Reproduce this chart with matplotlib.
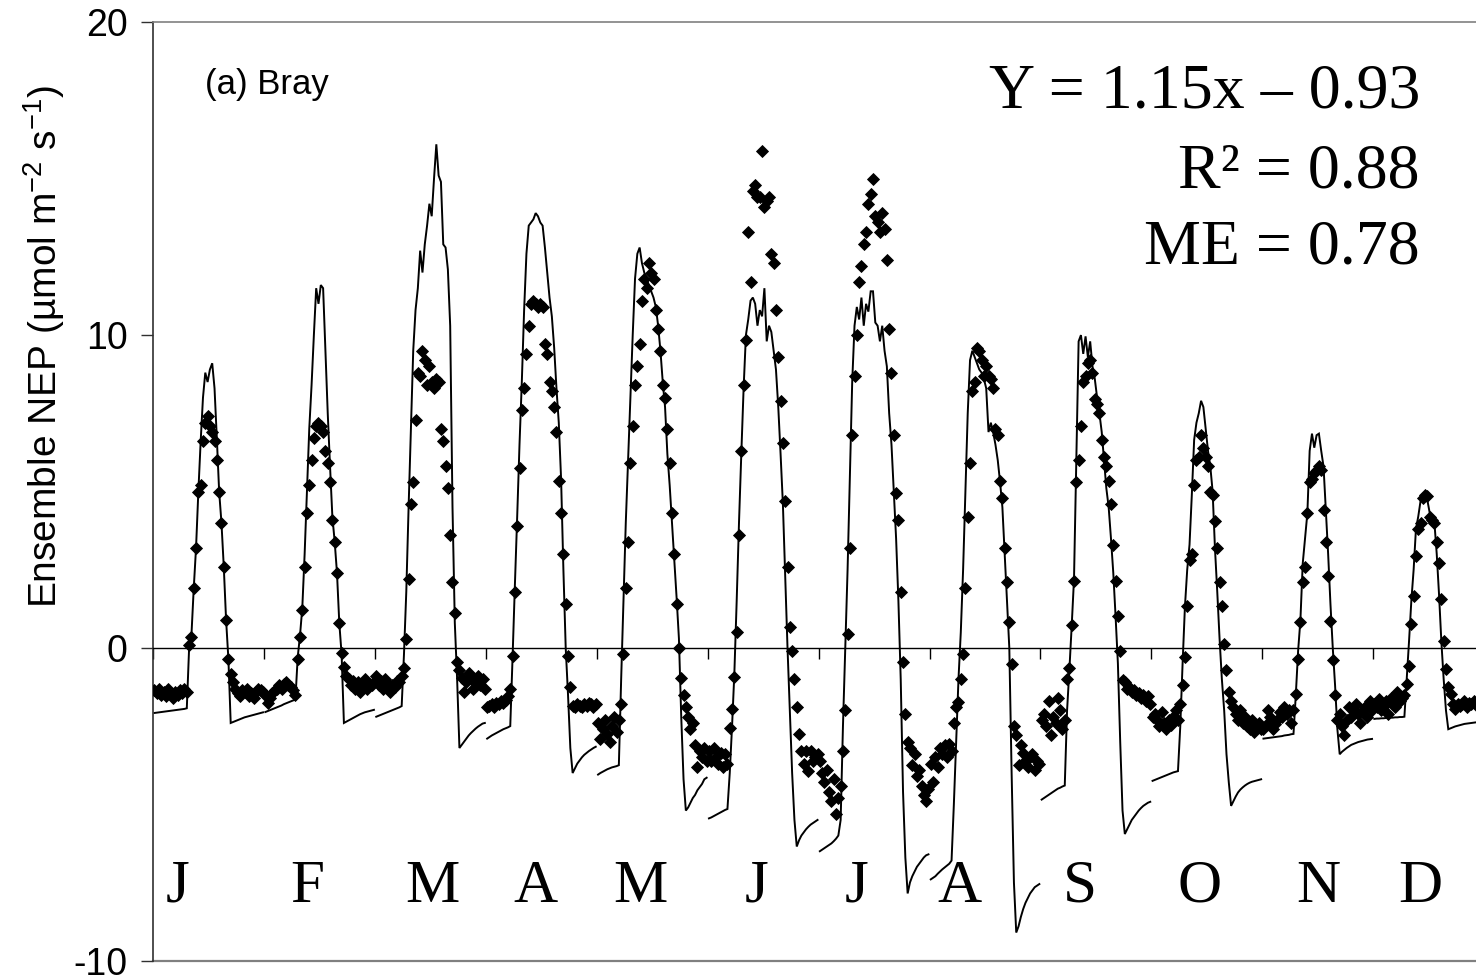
import numpy as np
import matplotlib
matplotlib.use("Agg")
import matplotlib.pyplot as plt

# ---------------- data: mean diurnal cycles (48 half-hours per month) ----------------
MONTHS = ["J", "F", "M", "A", "M", "J", "J", "A", "S", "O", "N", "D"]

# observed NEP (diamonds)
OBS_JAN = [-1.35, -1.45, -1.3, -1.5, -1.4, -1.55, -1.3, -1.45, -1.6, -1.4, -1.5, -1.35, -1.45, -1.3, -1.4,
           0.1, 0.35, 1.9, 3.2, 5.0, 5.2, 6.6, 7.2, 7.4, 7.1, 6.9, 6.6, 6.0, 5.0, 4.0, 2.6, 0.9, -0.35,
           -0.85, -1.1, -1.3, -1.45, -1.55, -1.35, -1.4, -1.3, -1.55, -1.45, -1.6, -1.4, -1.3, -1.35, -1.4]
OBS_FEB = [-1.5, -1.75, -1.6, -1.45, -1.35, -1.3, -1.2, -1.3, -1.15, -1.1, -1.2, -1.25, -1.35, -1.5,
           -0.35, 0.35, 1.2, 2.6, 4.3, 5.2, 6.0, 6.7, 7.1, 7.2, 7.1, 6.9, 6.3, 5.9, 5.3, 4.1, 3.4, 2.4, 0.8,
           -0.15, -0.6, -0.9, -1.0, -1.2, -1.05, -1.3, -1.1, -1.4, -1.2, -1.0, -1.3, -1.15, -1.2, -1.1]
OBS_MAR = [-0.9, -1.2, -1.05, -1.3, -1.0, -1.15, -1.4, -1.2, -1.25, -1.05, -1.1, -0.9,
           -0.65, 0.3, 2.2, 4.6, 5.3, 7.3, 8.8, 8.7, 9.5, 9.2, 8.4, 9.0, 8.5, 8.3, 8.6, 8.5, 7.0, 6.6, 5.8,
           5.1, 3.6, 2.1, 1.1, -0.45, -0.7, -0.95, -1.4, -1.1, -0.8, -1.0, -1.3, -1.1, -0.9, -1.2, -1.0, -1.3]
OBS_APR = [-1.9, -1.85, -1.8, -1.9, -1.75, -1.8, -1.7, -1.75, -1.65, -1.55, -1.3,
           -0.25, 1.8, 3.9, 5.75, 7.6, 8.3, 9.4, 10.3, 11.0, 11.1, 11.0, 10.9, 11.0, 10.9, 9.7, 9.4, 8.5,
           8.2, 7.7, 6.9, 5.35, 4.3, 3.0, 1.4, -0.25, -1.25, -1.85, -1.9, -1.8, -1.85, -1.9, -1.8, -1.85,
           -1.75, -1.8, -1.9, -1.8]
OBS_MAY = [-2.4, -2.9, -2.6, -2.3, -2.75, -3.0, -2.5, -2.2, -2.7, -2.3, -1.8,
           -0.2, 1.9, 3.4, 5.9, 7.1, 8.4, 9.0, 9.7, 11.1, 11.8, 11.5, 12.3, 12.0, 11.8, 10.8, 10.2, 9.5,
           8.4, 8.0, 7.0, 5.9, 4.3, 3.0, 1.4, 0.0, -0.95, -1.5, -1.9, -2.2, -2.6, -2.4, -3.1, -3.8, -3.3,
           -3.5, -3.2, -3.6]
OBS_JUN = [-3.3, -3.6, -3.2, -3.5, -3.7, -3.35, -3.8, -3.4, -3.7, -2.55, -1.95, -0.92,
           0.5, 3.6, 6.3, 8.4, 9.85, 13.3, 11.7, 14.6, 14.8, 14.4, 14.4, 15.9, 14.1, 14.3, 14.4, 12.6,
           12.3, 10.8, 9.3, 7.9, 6.55, 4.7, 2.6, 0.66, -0.1, -1.0, -1.9, -2.75, -3.3, -3.7, -3.3, -3.93,
           -3.3, -3.6, -3.5, -3.4]
OBS_JUL = [-3.6, -4.0, -4.3, -3.9, -4.6, -4.9, -4.2, -5.3, -4.8, -4.4, -3.3, -2.0,
           0.44, 3.2, 6.8, 8.7, 10.0, 11.7, 12.2, 12.9, 13.3, 14.2, 14.5, 15.0, 13.8, 13.6, 13.3, 13.9,
           13.4, 12.4, 10.2, 8.8, 6.8, 4.95, 4.1, 1.8, -0.45, -2.1, -3.0, -3.2, -3.75, -3.4, -4.1, -3.9,
           -4.4, -4.7, -4.9, -4.5]
OBS_AUG = [-3.7, -4.3, -3.5, -3.8, -3.2, -3.4, -3.1, -3.5, -3.06, -3.3, -2.4, -1.9, -1.74, -1.0,
           -0.2, 1.9, 4.2, 5.9, 8.2, 8.5, 9.6, 9.5, 9.2, 8.7, 9.0, 8.7, 8.6, 8.3, 7.0, 6.8, 5.35, 4.8, 3.2,
           2.1, 0.84, -0.53, -2.5, -2.8, -3.75, -3.1, -3.35, -3.6, -3.8, -3.5, -3.4, -3.9, -3.6, -3.7]
OBS_SEP = [-2.3, -2.1, -2.5, -1.7, -2.8, -2.2, -2.4, -1.6, -2.0, -2.6, -2.3, -1.0,
           -0.63, 0.73, 2.15, 5.3, 6.0, 7.1, 8.5, 8.7, 9.1, 9.2, 8.8, 7.95, 7.8, 7.5, 6.65, 6.1, 5.8, 5.35,
           4.6, 3.3, 2.15, 1.03, -0.09, -1.04, -1.1, -1.3, -1.25, -1.4, -1.35, -1.5, -1.45, -1.6, -1.5,
           -1.7, -1.55, -1.8]
OBS_OCT = [-2.2, -2.1, -2.3, -2.5, -2.05, -2.4, -2.6, -2.3, -2.45, -2.2, -2.0, -2.3,
           -1.8, -1.2, -0.3, 1.33, 2.8, 3.0, 5.2, 6.0, 6.1, 6.8, 6.4, 6.1, 5.8, 5.0, 4.9, 4.05, 3.2, 2.1,
           1.33, 0.14, -0.7, -1.4, -1.7, -1.9, -2.1, -2.3, -2.0, -2.4, -2.2, -2.5, -2.6, -2.3, -2.7, -2.5,
           -2.4, -2.6]
OBS_NOV = [-2.6, -2.45, -2.0, -2.2, -2.6, -2.43, -2.3, -2.05, -2.2, -1.9, -2.1, -2.0, -2.4, -2.0,
           -1.47, -0.35, 0.82, 2.1, 2.6, 4.3, 5.3, 5.4, 5.6, 5.7, 5.8, 5.7, 4.4, 3.4, 2.3, 0.87, -0.4, -1.5,
           -2.3, -2.1, -2.5, -2.8, -2.3, -1.9, -2.2, -2.0, -1.8, -2.1, -2.4, -2.0, -1.9, -2.2, -1.7, -2.0]
OBS_DEC = [-1.8, -1.9, -1.63, -2.0, -1.85, -1.7, -2.1, -1.6, -1.8, -1.9, -1.4, -1.7, -1.6, -1.5,
           -1.15, -0.57, 0.77, 1.67, 2.95, 3.8, 4.0, 4.8, 4.9, 4.85, 4.2, 4.1, 4.0, 3.4, 2.7, 1.57, 0.23,
           -0.68, -1.26, -1.47, -1.8, -1.95, -1.8, -1.85, -1.8, -1.7, -1.9, -1.75, -1.8, -1.7, -1.8, -1.9,
           -1.8, -1.85]

# ensemble model NEP (line)
MOD_JAN = [-2.08, -2.07, -2.06, -2.05, -2.04, -2.03, -2.02, -2.01, -2.0, -1.99, -1.98, -1.97, -1.96, -1.95, -1.93,
           0.0, 0.4, 1.9, 3.2, 5.0, 6.6, 8.0, 8.8, 8.5, 8.9, 9.1, 8.3, 6.7, 5.0, 4.0, 2.6, 0.9, -0.35,
           -2.4, -2.37, -2.34, -2.31, -2.28, -2.25, -2.22, -2.2, -2.18, -2.16, -2.14, -2.12, -2.1, -2.08, -2.06]
MOD_FEB = [-2.05, -2.02, -1.99, -1.96, -1.93, -1.9, -1.87, -1.84, -1.8, -1.77, -1.74, -1.71, -1.68, -1.65,
           -0.3, 0.4, 1.3, 3.0, 5.0, 7.0, 8.4, 10.0, 11.5, 11.0, 11.6, 11.5, 9.5, 7.5, 5.8, 4.2, 3.4, 2.4, 0.8,
           -0.2, -2.4, -2.36, -2.32, -2.28, -2.24, -2.2, -2.16, -2.12, -2.09, -2.06, -2.04, -2.02, -2.0, -1.98]
MOD_MAR = [-2.2, -2.17, -2.14, -2.11, -2.08, -2.05, -2.02, -1.99, -1.96, -1.93, -1.9, -1.86,
           -0.2, 1.8, 4.5, 7.0, 9.5, 10.8, 11.5, 12.7, 12.0, 12.9, 13.5, 14.2, 13.8, 15.0, 16.1, 15.1, 14.9,
           12.9, 12.8, 12.1, 10.3, 4.5, 0.8, -1.0, -3.2, -3.1, -3.0, -2.9, -2.8, -2.72, -2.65, -2.58, -2.52,
           -2.47, -2.42, -2.4]
MOD_APR = [-2.9, -2.85, -2.8, -2.76, -2.72, -2.68, -2.64, -2.6, -2.57, -2.54, -2.5,
           -0.3, 2.0, 4.2, 6.5, 8.5, 10.8, 12.6, 13.5, 13.6, 13.7, 13.9, 13.8, 13.6, 13.5, 12.8, 12.0, 11.2,
           10.6, 9.6, 8.3, 7.2, 5.4, 2.5, 0.0, -1.5, -3.2, -4.0, -3.85, -3.7, -3.6, -3.5, -3.42, -3.36,
           -3.3, -3.25, -3.2, -3.16]
MOD_MAY = [-4.05, -4.0, -3.96, -3.92, -3.88, -3.85, -3.82, -3.8, -3.78, -3.75,
           -1.0, 1.5, 4.0, 6.0, 8.0, 10.0, 11.8, 12.6, 12.8, 12.3, 12.0, 11.8, 11.6, 11.4, 11.2, 10.9, 10.3,
           9.5, 8.5, 7.7, 6.2, 5.2, 4.0, 2.8, 1.6, 0.3, -2.2, -4.2, -5.2, -5.1, -4.95, -4.8, -4.7, -4.55,
           -4.45, -4.35, -4.2, -4.15]
MOD_JUN = [-5.45, -5.42, -5.38, -5.34, -5.3, -5.26, -5.22, -5.18, -5.15,
           -4.0, -2.5, -0.8, 1.5, 4.0, 6.2, 8.3, 10.0, 10.5, 11.1, 11.2, 11.0, 10.3, 10.8, 10.6, 11.5, 9.8,
           10.3, 10.1, 9.5, 8.9, 7.7, 6.2, 4.6, 2.3, 0.0, -2.0, -4.0, -5.5, -6.35, -6.15, -6.0, -5.9, -5.8,
           -5.72, -5.65, -5.6, -5.55, -5.5]
MOD_JUL = [-6.5, -6.45, -6.4, -6.35, -6.3, -6.25, -6.18, -6.1, -6.0,
           -5.5, -2.5, 0.0, 2.5, 5.5, 8.5, 10.3, 10.9, 10.5, 11.2, 10.3, 11.0, 10.75, 11.4, 11.4, 10.4, 10.3,
           9.8, 10.3, 9.5, 9.0, 7.5, 6.5, 5.0, 3.5, 1.5, -1.0, -4.6, -6.7, -7.85, -7.5, -7.3, -7.15, -7.0,
           -6.9, -6.8, -6.7, -6.63, -6.6]
MOD_AUG = [-7.4, -7.35, -7.3, -7.22, -7.15, -7.08, -7.02, -6.96, -6.9,
           -6.8, -5.0, -3.0, -1.0, 0.5, 2.5, 5.0, 7.5, 9.2, 9.5, 9.3, 9.1, 8.9, 8.8, 8.6, 8.3, 6.9, 7.2, 6.9,
           6.5, 6.0, 5.3, 4.5, 3.0, 1.5, 0.0, -4.0, -7.5, -9.1, -8.9, -8.6, -8.35, -8.15, -8.0, -7.85,
           -7.75, -7.65, -7.6, -7.55]
MOD_SEP = [-4.85, -4.8, -4.75, -4.7, -4.65, -4.6, -4.55, -4.5, -4.47, -4.43, -4.4,
           -2.0, -0.7, 0.7, 2.2, 6.0, 9.8, 10.0, 9.4, 9.96, 9.3, 9.8, 9.0, 8.6, 8.0, 7.5, 6.9, 6.0, 5.1, 4.5,
           3.5, 2.4, 1.0, -0.5, -3.0, -5.2, -5.95, -5.8, -5.65, -5.5, -5.4, -5.3, -5.2, -5.12, -5.05, -5.0,
           -4.95, -4.92]
MOD_OCT = [-4.25, -4.22, -4.19, -4.16, -4.13, -4.1, -4.07, -4.04, -4.01, -3.98, -3.96, -3.94,
           -2.5, -0.5, 1.3, 2.5, 3.3, 4.9, 6.65, 7.2, 7.5, 7.9, 7.7, 7.0, 6.3, 5.8, 5.0, 3.2, 1.8, 0.3, -1.0,
           -2.0, -3.4, -4.3, -5.05, -4.9, -4.75, -4.62, -4.53, -4.46, -4.4, -4.35, -4.31, -4.28, -4.26,
           -4.24, -4.22, -4.2]
MOD_NOV = [-2.9, -2.89, -2.88, -2.87, -2.86, -2.85, -2.84, -2.83, -2.82, -2.8, -2.79, -2.78, -2.76, -2.75,
           -1.5, -0.1, 0.9, 2.7, 3.5, 4.3, 6.3, 6.85, 6.4, 6.8, 6.85, 6.3, 5.8, 4.4, 3.0, 1.4, 0.0, -1.2,
           -2.6, -3.4, -3.32, -3.26, -3.2, -3.15, -3.1, -3.07, -3.04, -3.01, -2.99, -2.97, -2.95, -2.93,
           -2.92, -2.91]
MOD_DEC = [-2.27, -2.26, -2.26, -2.25, -2.25, -2.24, -2.24, -2.23, -2.23, -2.22, -2.22, -2.21, -2.21, -2.2,
           -1.0, 0.2, 1.5, 2.5, 3.8, 4.2, 4.7, 4.8, 5.0, 4.7, 4.3, 4.1, 4.0, 3.0, 1.7, 0.2, -1.0, -2.0, -2.6,
           -2.57, -2.54, -2.51, -2.49, -2.47, -2.45, -2.43, -2.42, -2.41, -2.4, -2.39, -2.38, -2.37, -2.36,
           -2.35]

OBS = [OBS_JAN, OBS_FEB, OBS_MAR, OBS_APR, OBS_MAY, OBS_JUN,
       OBS_JUL, OBS_AUG, OBS_SEP, OBS_OCT, OBS_NOV, OBS_DEC]
MOD = [MOD_JAN, MOD_FEB, MOD_MAR, MOD_APR, MOD_MAY, MOD_JUN,
       MOD_JUL, MOD_AUG, MOD_SEP, MOD_OCT, MOD_NOV, MOD_DEC]

Y_TICKS = [-10, 0, 10, 20]
STATS = ["Y = 1.15x \u2013 0.93", "R\u00b2 = 0.88", "ME = 0.78"]
PANEL = "(a) Bray"
YLABEL = "Ensemble NEP (\u00b5mol m$^{-2}$ s$^{-1}$)"

# ---------------- layout (pixels of the 1476x975 canvas) ----------------
W, H = 1476, 975
AX_L, AX_R, AX_T, AX_B = 153.3, 1484.1, 22.3, 960.7
MONTH_X = [178, 307, 432, 535, 640, 757, 857, 960, 1080, 1200, 1318, 1420]
MONTH_BASE = 902
STATS_RIGHT = 1420
STATS_BASE = [108, 187, 263]

plt.rcParams["font.family"] = ["Liberation Sans", "DejaVu Sans"]
plt.rcParams["mathtext.fontset"] = "custom"
plt.rcParams["mathtext.rm"] = "Liberation Sans"
plt.rcParams["mathtext.it"] = "Liberation Sans:italic"
plt.rcParams["mathtext.bf"] = "Liberation Sans:bold"

fig = plt.figure(figsize=(W / 100, H / 100), dpi=100)
ax = fig.add_axes([AX_L / W, 1 - AX_B / H, (AX_R - AX_L) / W, (AX_B - AX_T) / H])

npts = len(OBS_JAN)
for k in range(len(MONTHS)):
    x = k * npts + np.arange(npts) + 0.5
    ax.plot(x, MOD[k], color="black", lw=1.4, zorder=2, solid_joinstyle="miter")
    ax.plot(x, OBS[k], ls="none", marker="D", ms=6.3, mfc="black", mec="black", mew=0.6, zorder=3)

ax.set_xlim(0, npts * len(MONTHS))
ax.set_ylim(-10, 20)

# axes styling
ax.spines["right"].set_visible(False)
ax.spines["top"].set_color("#808080")
ax.spines["top"].set_linewidth(1.2)
ax.spines["left"].set_color("#303030")
ax.spines["left"].set_linewidth(1.2)
ax.spines["bottom"].set_position(("data", 0))
ax.spines["bottom"].set_color("black")
ax.spines["bottom"].set_linewidth(1.0)
ax.axhline(-10, color="#808080", lw=1.6, clip_on=False, zorder=1)

ax.set_yticks(Y_TICKS)
ax.set_yticklabels([str(t) for t in Y_TICKS])
ax.tick_params(axis="y", direction="out", length=8.5, width=1.0, color="#303030",
               labelsize=27, pad=10)
ax.set_xticks(np.arange(0, npts * len(MONTHS) + 1, npts))
ax.set_xticklabels([])
ax.tick_params(axis="x", direction="out", length=8, width=1.0, color="black")

# texts
for lab, px in zip(MONTHS, MONTH_X):
    fig.text(px / W, 1 - MONTH_BASE / H, lab, ha="center", va="baseline",
             family="Liberation Serif", fontsize=44)
for s, b in zip(STATS, STATS_BASE):
    fig.text(STATS_RIGHT / W, 1 - b / H, s, ha="right", va="baseline",
             family="Liberation Serif", fontsize=46)
fig.text(205 / W, 1 - 94 / H, PANEL, ha="left", va="baseline", fontsize=25)
fig.text(44 / W, 1 - 346 / H, YLABEL, ha="center", va="center", rotation=90, fontsize=28)

fig.savefig("out.png", dpi=100)
